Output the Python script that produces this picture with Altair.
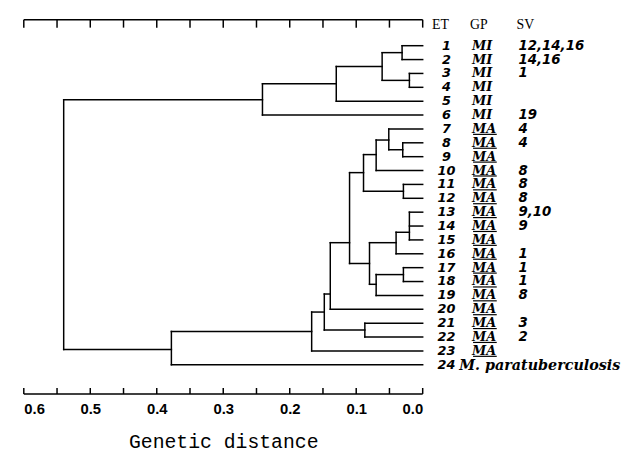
import altair as alt
import pandas as pd

# ---- row labels ----
et = [1, 2, 3, 4, 5, 6, 7, 8, 9, 10, 11, 12, 13, 14, 15, 16, 17, 18, 19, 20, 21, 22, 23, 24]
gp = ["MI", "MI", "MI", "MI", "MI", "MI",
      "MA", "MA", "MA", "MA", "MA", "MA", "MA", "MA", "MA", "MA", "MA", "MA", "MA", "MA", "MA", "MA", "MA",
      "M. paratuberculosis"]
sv = ["12,14,16", "14,16", "1", "", "", "19", "4", "4", "", "8", "8", "8", "9,10", "9", "", "1", "1", "1",
      "8", "", "3", "2", "", ""]
headers = ["ET", "GP", "SV"]

# ---- dendrogram: internal nodes (height = genetic distance, attach = row position of link to parent) ----
node_names = ["n12", "n34", "n1_4", "n1_5", "n1_6", "n89", "n7_9", "n7_10", "n1112", "n7_12",
              "n13_15", "n13_16", "n1718", "n17_19", "n13_19", "n7_19", "n7_20", "n2122", "n7_22",
              "n7_23", "n7_24", "root"]
node_heights = [0.031, 0.020, 0.061, 0.130, 0.241, 0.030, 0.051, 0.070, 0.029, 0.089,
                0.020, 0.040, 0.029, 0.070, 0.080, 0.110, 0.139, 0.087, 0.148,
                0.167, 0.378, 0.540]
node_children = [["1", "2"], ["3", "4"], ["n12", "n34"], ["n1_4", "5"], ["n1_5", "6"],
                 ["8", "9"], ["7", "n89"], ["n7_9", "10"], ["11", "12"], ["n7_10", "n1112"],
                 ["13", "14", "15"], ["n13_15", "16"], ["17", "18"], ["n1718", "19"],
                 ["n13_16", "n17_19"], ["n7_12", "n13_19"], ["n7_19", "20"], ["21", "22"],
                 ["n7_20", "n2122"], ["n7_22", "23"], ["n7_23", "24"], ["n1_6", "n7_24"]]
node_attach = [1.5, 3.5, 2.5, 3.75, 4.9, 8.5, 7.8, 8.85, 11.5, 10.15,
               14.45, 15.2, 17.5, 18.2, 16.7, 15.2, 18.9, 21.5, 20.2,
               21.6, 22.9, 13.9]

tick_values = [0.0, 0.05, 0.1, 0.15, 0.2, 0.25, 0.3, 0.35, 0.4, 0.45, 0.5, 0.55, 0.6]
label_values = [0.6, 0.5, 0.4, 0.3, 0.2, 0.1, 0.0]

# ---- build segments ----
height = {str(i): 0.0 for i in et}
attach = {str(i): float(i) for i in et}
for n, h, a in zip(node_names, node_heights, node_attach):
    height[n] = h
    attach[n] = a
segs = []
for n, h, kids in zip(node_names, node_heights, node_children):
    ys = [attach[k] for k in kids]
    segs.append({"x": h, "x2": h, "y": min(ys), "y2": max(ys)})
    for k in kids:
        segs.append({"x": height[k], "x2": h, "y": attach[k], "y2": attach[k]})
seg_df = pd.DataFrame(segs)

rows = pd.DataFrame({"idx": et, "et": [str(v) for v in et], "gp": gp, "sv": sv})
ticks_df = pd.DataFrame({"x": tick_values})
span_df = pd.DataFrame({"x": [max(tick_values)], "x2": [min(tick_values)]})

xs = alt.Scale(domain=[0, 0.6], reverse=True, nice=False, zero=False)
ysc = alt.Scale(domain=[-0.872, 26.103], reverse=True, nice=False, zero=False)

x_axis = alt.Axis(
    values=label_values, format=".1f", domain=False, ticks=False, grid=False,
    labelFlush=True, labelFont="Liberation Sans", labelFontWeight="bold", labelFontSize=15,
    labelColor="black", labelPadding=8,
    title="Genetic distance", titleFont="Liberation Mono", titleFontSize=20,
    titleFontWeight="normal", titleColor="black", titlePadding=15)

tree = alt.Chart(seg_df).mark_rule(color="black", strokeWidth=1.5, strokeCap="square").encode(
    x=alt.X("x:Q", scale=xs, axis=x_axis),
    x2="x2:Q",
    y=alt.Y("y:Q", scale=ysc, axis=None),
    y2="y2:Q",
)

top_line = alt.Chart(span_df).mark_rule(color="black", strokeWidth=1.5).encode(
    x=alt.X("x:Q", scale=xs, axis=x_axis), x2="x2:Q", y=alt.value(0))
top_ticks = alt.Chart(ticks_df).mark_rule(color="black", strokeWidth=1.5).encode(
    x=alt.X("x:Q", scale=xs, axis=x_axis), y=alt.value(0), y2=alt.value(8))
bot_line = alt.Chart(span_df).mark_rule(color="black", strokeWidth=1.5).encode(
    x=alt.X("x:Q", scale=xs, axis=x_axis), x2="x2:Q", y=alt.value(379))
bot_ticks = alt.Chart(ticks_df).mark_rule(color="black", strokeWidth=1.5).encode(
    x=alt.X("x:Q", scale=xs, axis=x_axis), y=alt.value(373), y2=alt.value(379))

et_text = alt.Chart(rows).mark_text(
    align="center", baseline="middle", font="DejaVu Sans", fontStyle="italic",
    fontWeight="bold", fontSize=13, color="black").encode(
    x=alt.value(428), y=alt.Y("idx:Q", scale=ysc, axis=None), text="et:N")

gp_text = alt.Chart(rows).transform_filter("datum.idx < 24").mark_text(
    align="left", baseline="middle", font="DejaVu Serif", fontStyle="italic",
    fontWeight="bold", fontSize=13, color="black").encode(
    x=alt.value(454), y=alt.Y("idx:Q", scale=ysc, axis=None), text="gp:N")

para_text = alt.Chart(rows).transform_filter("datum.idx == 24").mark_text(
    align="left", baseline="middle", font="DejaVu Serif", fontStyle="italic",
    fontWeight="bold", fontSize=14.5, color="black", dy=1).encode(
    x=alt.value(441), y=alt.Y("idx:Q", scale=ysc, axis=None), text="gp:N")

underline = alt.Chart(rows).transform_filter("datum.gp == 'MA'").mark_rule(
    color="black", strokeWidth=1.2, yOffset=5.5).encode(
    x=alt.value(455), x2=alt.value(479), y=alt.Y("idx:Q", scale=ysc, axis=None))

sv_text = alt.Chart(rows).mark_text(
    align="left", baseline="middle", font="DejaVu Sans", fontStyle="italic",
    fontWeight="bold", fontSize=13.5, color="black").encode(
    x=alt.value(501), y=alt.Y("idx:Q", scale=ysc, axis=None), text="sv:N")

hdr_x = [422, 452, 499]
hdr_align = ["center", "left", "left"]
hdr_layers = []
for h, hx, ha in zip(headers, hdr_x, hdr_align):
    hdr_layers.append(
        alt.Chart(span_df).mark_text(align=ha, baseline="alphabetic", font="Liberation Serif",
                                     fontSize=14, color="black").encode(
            x=alt.value(hx), y=alt.value(9), text=alt.value(h)))

chart = alt.layer(tree, top_line, top_ticks, bot_line, bot_ticks, et_text, gp_text, para_text,
                  underline, sv_text, *hdr_layers).properties(
    width=404, height=379,
    padding={"left": 16, "top": 9, "right": 213, "bottom": 62},
    autosize=alt.AutoSizeParams(type="none"),
).configure_view(strokeWidth=0)

chart.save("out.html", embed_options={"renderer": "svg", "actions": False})
